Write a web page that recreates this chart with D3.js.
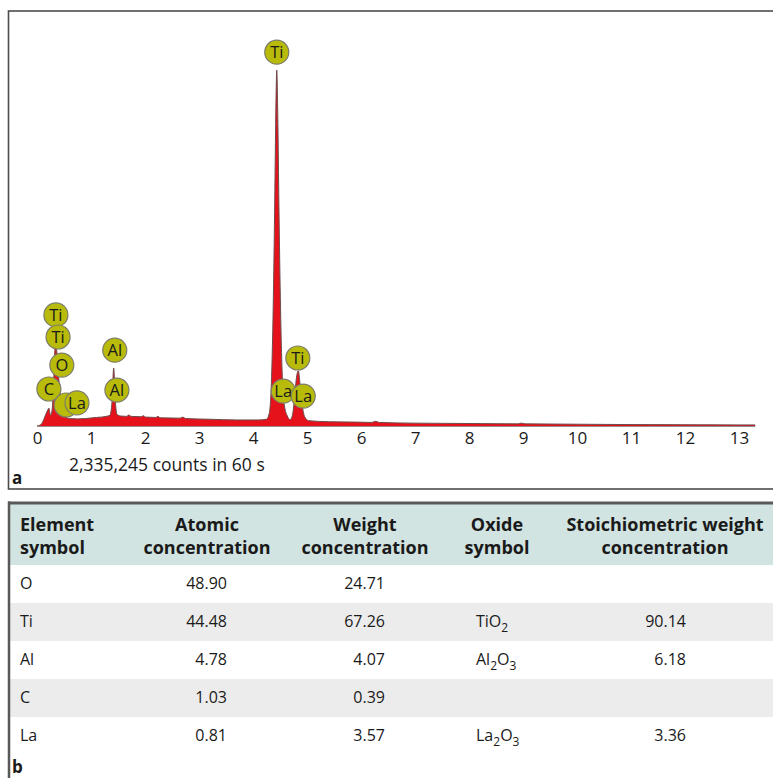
<!DOCTYPE html>
<html>
<head>
<meta charset="utf-8">
<script src="https://cdn.jsdelivr.net/npm/d3@7"></script>
<style>
  body { margin: 0; background: #fff; }
  svg text { font-family: "Open Sans", "Noto Sans", sans-serif; fill: #1a1a1a; }
</style>
</head>
<body>
<svg id="fig" width="773" height="778"></svg>
<script>
// ---- EDS spectrum (energy in keV, intensity in relative counts) ----
const energyKeV = [
  0.00, 0.05, 0.10, 0.15, 0.19, 0.22, 0.25, 0.28, 0.31, 0.34, 0.37, 0.40, 0.44, 0.48, 0.53, 0.60,
  0.75, 0.90, 1.10, 1.28, 1.35, 1.39, 1.42, 1.45, 1.48, 1.55, 1.66, 1.70, 1.74, 1.93, 1.97, 2.01,
  2.20, 2.24, 2.28, 2.65, 2.70, 2.75, 3.20, 3.70, 4.10, 4.25, 4.30, 4.34, 4.37, 4.40, 4.42, 4.44,
  4.46, 4.48, 4.51, 4.54, 4.58, 4.63, 4.69, 4.73, 4.77, 4.80, 4.84, 4.87, 4.91, 4.96, 5.03, 5.40,
  5.90, 6.20, 6.27, 6.34, 7.00, 8.00, 8.90, 8.97, 9.05, 10.0, 11.0, 12.0, 13.0, 13.3
];
const intensity = [
  0, 2, 10, 28, 42, 50, 30, 45, 130, 228, 205, 140, 75, 40, 26, 21,
  20, 21, 24, 27, 30, 70, 163, 72, 33, 28, 27, 31, 27, 26, 29, 25,
  24, 27, 23, 22, 25, 21, 19, 17, 17, 19, 35, 120, 300, 600, 850, 1000,
  860, 620, 330, 150, 60, 30, 18, 30, 80, 130, 155, 120, 60, 25, 15, 12,
  11, 10, 13, 10, 8, 7, 6, 8, 6, 5, 4, 3.5, 3, 3
];

// Peak identification markers: symbol, energy (keV), marker height (relative counts)
const markerSymbol = ["Ti", "Ti", "O", "C", "", "La", "Al", "Al", "Ti", "La", "La", "Ti"];
const markerEnergy = [0.35, 0.39, 0.46, 0.22, 0.54, 0.74, 1.44, 1.48, 4.44, 4.56, 4.93, 4.83];
const markerHeight = [312, 250, 171, 104, 59, 65, 213, 101, 1050, 98, 84, 191];

const energyTicks = [0, 1, 2, 3, 4, 5, 6, 7, 8, 9, 10, 11, 12, 13];
const tickLabels = ["0", "1", "2", "3", "4", "5", "6", "7", "8", "9", "10", "11", "12", "13"];
const countsNote = "2,335,245 counts in 60 s";

// ---- Quantification table ----
const headerLine1 = ["Element", "Atomic", "Weight", "Oxide", "Stoichiometric weight"];
const headerLine2 = ["symbol", "concentration", "concentration", "symbol", "concentration"];
const elementSymbols = ["O", "Ti", "Al", "C", "La"];
const atomicConc = ["48.90", "44.48", "4.78", "1.03", "0.81"];
const weightConc = ["24.71", "67.26", "4.07", "0.39", "3.57"];
const oxideSymbols = ["", "TiO2", "Al2O3", "", "La2O3"];
const stoichConc = ["", "90.14", "6.18", "", "3.36"];

const svg = d3.select("#fig");

// ================= Panel a : spectrum =================
const x = d3.scaleLinear().domain([0, 13]).range([37, 739]);
const y = d3.scaleLinear().domain([0, 1000]).range([426, 70]);

const spectrum = energyKeV.map((e, i) => ({ e, c: intensity[i] }));

// frame of panel a
svg.append("rect")
  .attr("x", 8.5).attr("y", 11).attr("width", 780).attr("height", 478)
  .attr("fill", "none").attr("stroke", "#4d4d4d").attr("stroke-width", 1.6);

svg.append("path")
  .datum(spectrum)
  .attr("d", d3.area().x(d => x(d.e)).y0(y(0)).y1(d => y(d.c)).curve(d3.curveMonotoneX))
  .attr("fill", "#e5121b");

svg.append("path")
  .datum(spectrum)
  .attr("d", d3.line().x(d => x(d.e)).y(d => y(d.c)).curve(d3.curveMonotoneX))
  .attr("fill", "none").attr("stroke", "#6e4b4b").attr("stroke-width", 1);

svg.append("line")
  .attr("x1", x(0)).attr("x2", x(13.3)).attr("y1", y(0) + 0.5).attr("y2", y(0) + 0.5)
  .attr("stroke", "#9a8a8a").attr("stroke-width", 1);

// energy axis
const axis = svg.append("g")
  .attr("transform", `translate(0,${y(0)})`)
  .call(d3.axisBottom(x).tickValues(energyTicks).tickFormat((d, i) => tickLabels[i]).tickSize(0).tickPadding(6));
axis.select(".domain").remove();
axis.selectAll("text").attr("font-size", 17).attr("font-family", "\"Open Sans\", sans-serif").attr("fill", "#1a1a1a");

// peak markers
const markers = svg.append("g").selectAll("g")
  .data(markerSymbol.map((s, i) => ({ s, e: markerEnergy[i], h: markerHeight[i] })))
  .join("g")
  .attr("transform", d => `translate(${x(d.e)},${y(d.h)})`);
markers.append("circle")
  .attr("r", 12)
  .attr("fill", "#b9bb0a")
  .attr("stroke", "#7d7d6a").attr("stroke-width", 1.2);
markers.filter(d => d.s !== "").append("text")
  .attr("text-anchor", "middle").attr("dy", "0.36em")
  .attr("font-size", 16.5)
  .attr("fill", "#111")
  .text(d => d.s);

svg.append("text")
  .attr("x", 69).attr("y", 471)
  .attr("font-size", 17.5)
  .text(countsNote);

svg.append("text")
  .attr("x", 12).attr("y", 484)
  .attr("font-size", 17).attr("font-weight", 700)
  .text("a");

// ================= Panel b : table =================
const tableTop = 503;
const headerBottom = 565;
const rowH = 38;

svg.append("rect")
  .attr("x", 8).attr("y", tableTop).attr("width", 765).attr("height", headerBottom - tableTop)
  .attr("fill", "#d1e4e1");

elementSymbols.forEach((_, i) => {
  if (i % 2 === 1) {
    svg.append("rect")
      .attr("x", 8).attr("y", headerBottom + i * rowH).attr("width", 765).attr("height", rowH)
      .attr("fill", "#ececec");
  }
});

// frame lines of panel b
svg.append("line").attr("x1", 8).attr("x2", 773).attr("y1", tableTop).attr("y2", tableTop)
  .attr("stroke", "#595959").attr("stroke-width", 3);
svg.append("line").attr("x1", 9).attr("x2", 9).attr("y1", tableTop - 1.5).attr("y2", 778)
  .attr("stroke", "#595959").attr("stroke-width", 2.5);

// column placement: header centre/left, data anchor
const colHeaderX = [20, 207, 365, 497, 665];
const colHeaderAnchor = ["start", "middle", "middle", "middle", "middle"];
const colDataX = [20, 227, 385, 476, 686];
const colDataAnchor = ["start", "end", "end", "start", "end"];

const header = svg.append("g").attr("font-size", 18).attr("font-weight", 700);
headerLine1.forEach((t, i) => {
  header.append("text").attr("x", colHeaderX[i]).attr("y", 531)
    .attr("text-anchor", colHeaderAnchor[i]).text(t);
  header.append("text").attr("x", colHeaderX[i]).attr("y", 554)
    .attr("text-anchor", colHeaderAnchor[i]).text(headerLine2[i]);
});

// write a formula with numeric subscripts
function formula(sel, str) {
  let shift = 0;
  str.split(/(\d+)/).filter(p => p.length).forEach(p => {
    const sub = /^\d+$/.test(p);
    const ts = sel.append("tspan").text(p);
    const target = sub ? 5 : 0;
    if (target !== shift) ts.attr("dy", target - shift);
    if (sub) ts.attr("font-size", 12);
    shift = target;
  });
}

const columns = [elementSymbols, atomicConc, weightConc, oxideSymbols, stoichConc];
const body = svg.append("g").attr("font-size", 16);
elementSymbols.forEach((_, r) => {
  const baseY = headerBottom + r * rowH + 24;
  columns.forEach((col, c) => {
    if (!col[r]) return;
    const t = body.append("text").attr("x", colDataX[c]).attr("y", baseY)
      .attr("text-anchor", colDataAnchor[c]);
    if (c === 3) formula(t, col[r]); else t.text(col[r]);
  });
});

svg.append("text")
  .attr("x", 12).attr("y", 773)
  .attr("font-size", 17).attr("font-weight", 700)
  .text("b");
</script>
</body>
</html>
